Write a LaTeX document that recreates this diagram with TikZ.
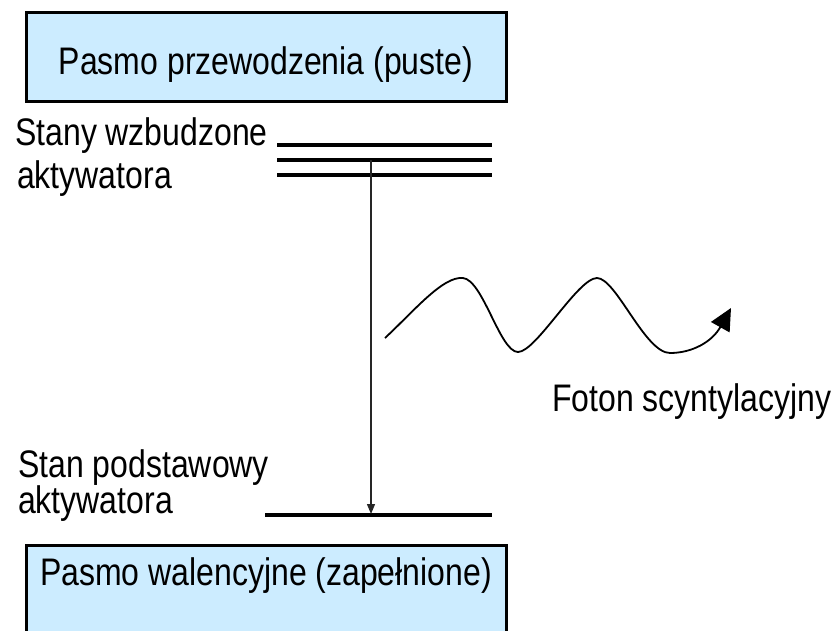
\documentclass[tikz,border=0pt]{standalone}
\usepackage{fontspec}
\setmainfont{Liberation Sans}
\usetikzlibrary{arrows.meta}
\definecolor{bandblue}{RGB}{204,236,255}
\tikzset{
  band/.style={draw=black, line width=3pt, fill=bandblue, rectangle, inner sep=0pt},
  lbl/.style={inner sep=0pt, font=\fontsize{32}{38}\selectfont},
  level/.style={line width=3.5pt, black},
  transition/.style={line width=1.3pt, black!85, -{Triangle[length=10pt,width=8pt]}},
  photon/.style={line width=1.8pt, black, -{Triangle[length=22pt,width=21pt]}}
}
\newcommand{\tall}[1]{\scalebox{1}[1.2]{#1}}
\begin{document}
\begin{tikzpicture}[x=1pt,y=-1pt]
\clip (0,0) rectangle (839,630);
\useasboundingbox (0,0) rectangle (839,630);
% bands
\node[band, minimum width=480pt, minimum height=89pt] (cb) at (266,56.5) {};
\node[lbl, anchor=base] (cbt) at (266,74) {\tall{Pasmo przewodzenia (puste)}};
\node[band, minimum width=480pt, minimum height=130pt] (vb) at (266,610) {};
\node[lbl, anchor=base] (vbt) at (266,585) {\tall{Pasmo walencyjne (zapełnione)}};
% excited levels
\coordinate (e1a) at (277,145); \coordinate (e1b) at (492,145);
\coordinate (e2a) at (277,160); \coordinate (e2b) at (492,160);
\coordinate (e3a) at (277,175); \coordinate (e3b) at (492,175);
\draw[level] (e1a) -- (e1b);
\draw[level] (e2a) -- (e2b);
\draw[level] (e3a) -- (e3b);
% ground level
\coordinate (ga) at (265,515); \coordinate (gb) at (492,515);
\draw[level] (ga) -- (gb);
% transition
\coordinate (ts) at (371,160);
\coordinate (te) at (371,514);
\draw[transition] (ts) -- (te);
% labels
\node[lbl, anchor=base west] (l1) at (15,145) {\tall{Stany wzbudzone}};
\node[lbl, anchor=base west] (l2) at (17,188) {\tall{aktywatora}};
\node[lbl, anchor=base west] (l3) at (18,477) {\tall{Stan podstawowy}};
\node[lbl, anchor=base west] (l4) at (18,513) {\tall{aktywatora}};
\node[lbl, anchor=base west] (l5) at (552,411) {\tall{Foton scyntylacyjny}};
% photon
\coordinate (ps) at (385,338);
\coordinate (pe) at (731,308);
\draw[photon] (ps) .. controls (415,310) and (443,276) .. (463,278)
  .. controls (483,280) and (500,352) .. (518,352)
  .. controls (536,352) and (578,278) .. (597,278)
  .. controls (616,278) and (645,353) .. (670,353)
  .. controls (692,353) and (712,342) .. (pe);
\end{tikzpicture}
\end{document}
